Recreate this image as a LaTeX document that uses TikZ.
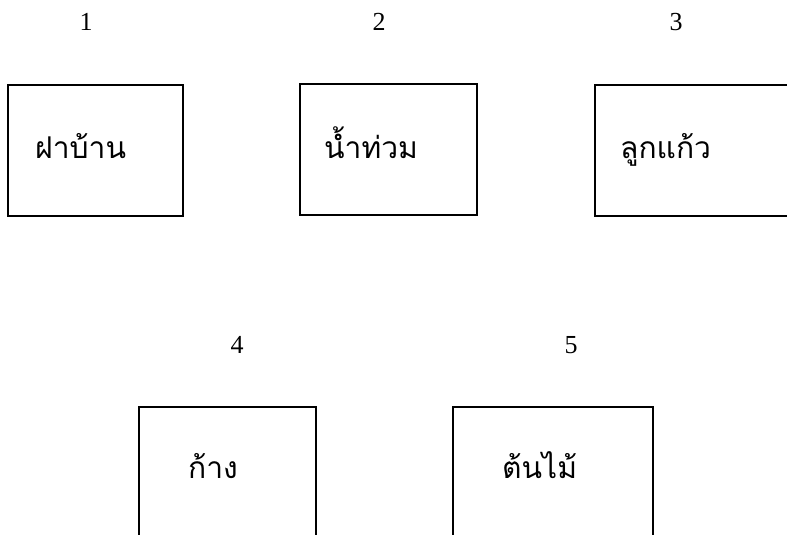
\documentclass[tikz,border=0pt]{standalone}
\usepackage{fontspec}
\setmainfont{Liberation Serif}
\newfontfamily\thaifont[Script=Thai]{Loma}
\begin{document}
\begin{tikzpicture}[x=1pt, y=-1pt,
    box/.style={rectangle, draw, line width=2pt, minimum width=#1, minimum height=131pt, inner sep=0pt},
    num/.style={font=\fontsize{26}{30}\selectfont},
    word/.style={font=\thaifont\fontsize{30}{34}\selectfont, inner sep=0pt, anchor=base west}]
    \useasboundingbox (0,0) rectangle (787,535);
    % top row
    \node[box=175] (box1) at (95.5, 150.5) {};
    \node[box=177] (box2) at (388, 149.5) {};
    \node[box=210] (box3) at (700, 150.5) {};
    % bottom row
    \node[box=177] (box4) at (227.5, 472.5) {};
    \node[box=200] (box5) at (553, 472.5) {};

    \node[num] (num1) at (86, 22) {1};
    \node[num] (num2) at (379, 22) {2};
    \node[num] (num3) at (676, 22) {3};
    \node[num] (num4) at (237, 345) {4};
    \node[num] (num5) at (571, 345) {5};

    \node[word] (txt1) at (35, 158) {ฝาบ้าน};
    \node[word] (txt2) at (324, 158) {น้ำท่วม};
    \node[word] (txt3) at (620, 158) {ลูกแก้ว};
    \node[word] (txt4) at (188, 478) {ก้าง};
    \node[word] (txt5) at (502, 478) {ต้นไม้};
\end{tikzpicture}
\end{document}
